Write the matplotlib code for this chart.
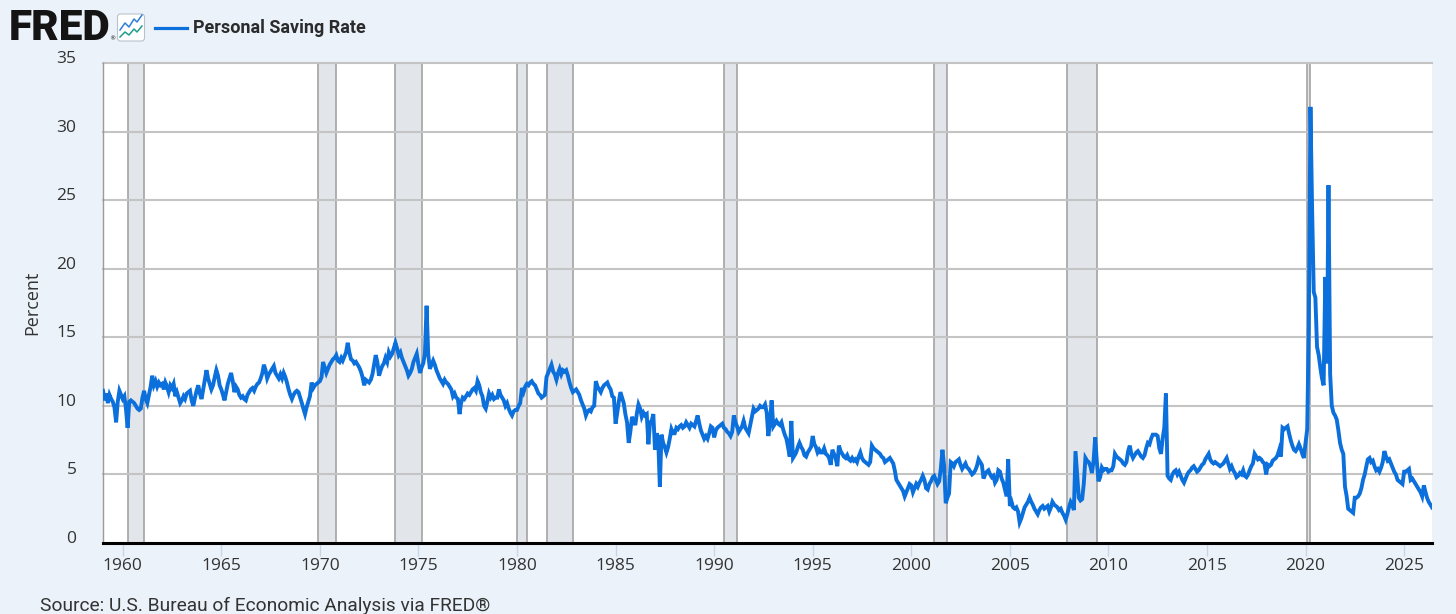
import numpy as np
import pandas as pd
import matplotlib
matplotlib.use("Agg")
import matplotlib.pyplot as plt
from matplotlib.patches import FancyBboxPatch
from matplotlib.lines import Line2D
from matplotlib.transforms import IdentityTransform

# ---------------- data (Personal Saving Rate, percent, monthly from 1959-01) ----------------
series_start = "1959-01-01"

rate_1959_1969 = [
    11.1, 10.4, 10.9, 10.2, 10.8, 10.5, 10.3, 9.9, 8.8, 10.3, 11.1, 10.8,
    10.5, 10.7, 9.8, 8.4, 10.3, 10.4, 10.3, 10.2, 10.0, 9.8, 9.7, 9.8,
    10.6, 11.1, 10.5, 10.2, 10.8, 11.4, 12.2, 11.5, 11.8, 11.4, 11.7, 11.5,
    11.6, 11.2, 11.7, 11.4, 11.0, 11.5, 11.3, 11.6, 10.7, 11.0, 10.6, 10.2,
    10.4, 10.7, 10.5, 10.9, 11.0, 11.1, 10.4, 10.0, 10.6, 11.1, 11.5, 10.9,
    10.5, 11.2, 11.9, 12.6, 12.0, 11.6, 11.2, 11.5, 12.1, 12.6, 12.2, 11.5,
    11.2, 10.8, 10.4, 11.0, 11.6, 12.0, 12.4, 11.8, 11.0, 11.4, 11.2, 10.8,
    10.6, 10.7, 10.5, 10.4, 10.8, 11.0, 11.2, 11.3, 11.1, 11.4, 11.6, 11.7,
    12.0, 12.4, 13.0, 12.6, 12.0, 12.3, 12.5, 12.7, 12.9, 12.4, 12.2, 12.0,
    12.3, 12.0, 12.4, 12.1, 11.7, 11.2, 10.8, 10.5, 10.8, 11.0, 11.1, 11.0,
    10.6, 10.2, 9.8, 9.4, 9.9, 10.3, 10.7, 11.7, 11.3, 11.5, 11.6, 11.7,
]
rate_1970s = [
    11.8, 12.1, 13.2, 12.8, 12.4, 12.7, 13.0, 13.2, 13.4, 13.5, 13.7, 13.3,
    13.2, 13.5, 13.3, 13.6, 13.9, 14.6, 13.9, 13.4, 13.3, 13.1, 13.2, 13.0,
    12.8, 12.5, 12.1, 11.5, 11.9, 11.8, 11.7, 11.9, 12.3, 13.0, 13.7, 13.2,
    12.2, 12.6, 12.9, 13.1, 13.5, 13.2, 13.9, 13.6, 13.8, 14.2, 14.6, 14.2,
    13.7, 13.9, 13.5, 13.2, 12.9, 12.6, 12.2, 12.4, 12.7, 13.2, 13.5, 13.8,
    13.0, 12.4, 12.8, 13.1, 13.8, 17.3, 13.8, 12.7, 13.0, 13.3, 13.0, 12.6,
    12.3, 12.0, 11.8, 11.6, 11.9, 11.7, 11.6, 11.4, 11.2, 10.7, 10.9, 10.6,
    10.5, 9.4, 10.2, 10.6, 10.5, 10.7, 10.9, 10.8, 11.0, 11.2, 11.3, 11.1,
    11.8, 11.5, 11.0, 10.7, 10.0, 9.8, 10.3, 10.9, 10.6, 10.8, 10.5, 10.6,
    10.6, 11.2, 10.8, 10.6, 10.4, 10.0, 10.2, 9.8, 9.5, 9.3, 9.6, 9.7,
]
rate_1980s = [
    9.7, 10.0, 10.2, 11.3, 11.0, 11.4, 11.6, 11.5, 11.7, 11.8, 11.6, 11.5,
    11.2, 10.9, 10.8, 10.6, 10.7, 10.8, 12.1, 12.4, 12.7, 13.0, 12.5, 12.3,
    11.9, 12.4, 12.7, 12.3, 12.6, 12.5, 12.6, 12.2, 11.7, 11.3, 11.0, 11.1,
    11.2, 11.0, 10.8, 10.4, 10.1, 9.8, 9.3, 9.6, 9.7, 9.6, 9.9, 10.0,
    11.8, 11.4, 11.2, 11.0, 11.3, 11.5, 11.6, 11.7, 11.4, 11.2, 10.7, 10.6,
    8.7, 9.5, 10.3, 11.0, 10.6, 10.2, 9.4, 8.8, 7.3, 8.1, 9.2, 8.9,
    8.6, 9.5, 10.1, 9.8, 9.2, 9.5, 9.3, 9.4, 7.2, 8.8, 8.9, 9.4,
    6.8, 8.0, 7.6, 4.1, 7.9, 7.3, 7.0, 6.6, 7.0, 7.6, 8.3, 8.0,
    8.0, 8.4, 8.3, 8.5, 8.6, 8.4, 8.5, 8.8, 8.6, 8.4, 8.7, 8.6,
    8.5, 8.9, 9.3, 8.7, 8.2, 7.9, 7.6, 7.8, 7.6, 8.0, 8.5, 8.4,
]
rate_1990s = [
    7.7, 8.2, 8.4, 8.5, 8.6, 8.7, 8.4, 8.3, 8.1, 8.0, 7.8, 8.1,
    9.3, 8.8, 8.5, 8.1, 8.3, 8.5, 8.9, 8.4, 8.2, 8.0, 8.6, 9.2,
    9.8, 9.6, 9.7, 9.8, 10.0, 9.9, 9.9, 10.1, 9.5, 7.8, 8.8, 10.4,
    8.5, 8.7, 8.9, 8.7, 8.6, 8.8, 8.3, 7.9, 7.6, 7.0, 6.3, 8.9,
    6.2, 6.4, 6.6, 7.0, 7.3, 7.0, 6.8, 6.4, 6.3, 6.6, 6.8, 7.0,
    7.8, 7.2, 7.0, 6.6, 6.8, 6.6, 6.6, 6.9, 6.5, 6.4, 6.2, 5.7,
    6.8, 6.5, 6.2, 5.6, 7.1, 6.7, 6.5, 6.3, 6.2, 6.4, 6.1, 6.0,
    6.2, 6.0, 6.1, 5.9, 6.3, 6.6, 6.2, 6.0, 5.9, 5.8, 5.7, 5.9,
    7.1, 6.9, 6.8, 6.7, 6.6, 6.5, 6.3, 6.2, 5.9, 6.0, 6.1, 6.2,
    6.0, 5.8, 5.3, 4.6, 4.4, 4.2, 4.0, 3.8, 3.4, 3.7, 4.0, 4.3,
]
rate_2000s = [
    4.2, 3.7, 4.0, 4.3, 4.1, 4.4, 4.6, 4.9, 4.6, 4.0, 3.9, 4.3,
    4.5, 4.8, 4.9, 4.6, 4.3, 4.5, 5.4, 6.8, 5.6, 2.9, 3.3, 3.6,
    5.9, 5.8, 5.6, 5.9, 6.0, 6.1, 5.7, 5.4, 5.6, 5.8, 5.5, 5.4,
    5.2, 5.0, 5.1, 5.3, 5.6, 6.1, 5.9, 5.7, 4.7, 5.0, 5.2, 5.3,
    5.0, 4.8, 4.9, 4.4, 4.6, 5.3, 5.2, 4.7, 4.4, 3.9, 3.4, 6.1,
    2.7, 3.0, 2.6, 2.5, 2.6, 2.3, 1.5, 1.8, 2.2, 2.6, 2.8, 3.0,
    3.3, 3.0, 2.8, 2.5, 2.3, 2.1, 2.4, 2.6, 2.7, 2.5, 2.6, 2.7,
    2.3, 2.6, 3.0, 2.8, 2.7, 2.6, 2.4, 2.5, 2.2, 2.0, 1.7, 2.1,
    2.6, 3.0, 2.8, 2.4, 6.7, 5.0, 3.3, 3.1, 3.2, 4.3, 6.2, 6.0,
    5.9, 5.6, 5.1, 6.0, 7.7, 5.9, 4.5, 4.8, 5.5, 5.3, 5.4, 5.4,
]
rate_2010s = [
    5.2, 5.3, 5.3, 5.6, 6.5, 6.3, 6.2, 6.1, 6.0, 5.8, 5.7, 5.9,
    6.7, 7.1, 6.5, 6.2, 6.4, 6.6, 6.7, 6.5, 6.3, 6.2, 6.4, 6.9,
    7.3, 7.2, 7.6, 7.9, 7.9, 7.9, 7.8, 6.9, 6.5, 7.6, 8.4, 10.9,
    4.9, 4.7, 4.6, 5.0, 5.2, 5.3, 5.0, 5.2, 4.9, 4.6, 4.4, 4.7,
    5.0, 5.2, 5.3, 5.5, 5.6, 5.4, 5.2, 5.3, 5.5, 5.7, 5.8, 6.1,
    6.3, 6.5, 6.1, 5.9, 5.8, 5.9, 5.8, 5.7, 5.6, 5.7, 5.8, 6.0,
    6.2, 5.8, 5.4, 5.6, 5.3, 5.1, 4.8, 4.9, 5.1, 5.0, 5.3, 4.9,
    4.8, 5.0, 5.3, 5.6, 5.8, 6.5, 6.3, 6.1, 6.2, 6.1, 5.9, 5.8,
    5.0, 5.7, 5.6, 5.7, 6.0, 6.1, 6.2, 6.4, 6.8, 6.3, 8.4, 8.3,
    8.4, 8.5, 8.0, 7.5, 7.1, 6.8, 6.7, 6.9, 7.2, 6.9, 6.5, 6.2,
]
rate_2020s = [
    7.3, 8.3, 15.8, 31.8, 24.5, 18.3, 17.9, 14.3, 13.7, 12.8, 12.0, 11.5,
    19.4, 13.1, 26.1, 12.3, 10.0, 9.5, 9.3, 9.0, 8.2, 7.3, 6.8, 6.5,
    4.1, 3.4, 2.5, 2.4, 2.3, 2.2, 3.3, 3.3, 3.4, 3.6, 4.0, 4.6,
    5.0, 5.6, 6.1, 6.2, 5.9, 6.0, 5.6, 5.3, 5.4, 5.2, 5.5, 5.9,
    6.7, 6.3, 6.0, 6.1, 5.8, 5.5, 5.2, 5.0, 4.6, 4.5, 4.4, 4.3,
    5.2, 5.2, 5.3, 5.4, 4.6, 4.7, 4.5, 4.3, 4.1, 3.9, 3.7, 3.4,
    4.2, 3.7, 3.3, 3.0, 2.8, 2.6,
]

recession_starts = ["1960-04-01", "1969-12-01", "1973-11-01", "1980-01-01", "1981-07-01",
                    "1990-07-01", "2001-03-01", "2007-12-01", "2020-02-01"]
recession_ends = ["1961-02-01", "1970-11-01", "1975-03-01", "1980-07-01", "1982-11-01",
                  "1991-03-01", "2001-11-01", "2009-06-01", "2020-04-01"]

y_ticks = [0, 5, 10, 15, 20, 25, 30, 35]
x_tick_years = [1960, 1965, 1970, 1975, 1980, 1985, 1990, 1995, 2000, 2005, 2010, 2015, 2020, 2025]

series_name = "Personal Saving Rate"
y_label = "Percent"
source_text = "Source: U.S. Bureau of Economic Analysis via FRED\u00ae"

# ---------------- build ----------------
rates = np.array(rate_1959_1969 + rate_1970s + rate_1980s + rate_1990s +
                 rate_2000s + rate_2010s + rate_2020s)
dates = pd.date_range(series_start, periods=len(rates), freq="MS")

W, H = 1456, 614
BG = "#ebf2fa"
LINE = "#0b6fdc"
TXT = "#333333"

fig = plt.figure(figsize=(W / 100, H / 100), dpi=100, facecolor=BG)
L, R, T, B = 103, 1432, 63, 543
ax = fig.add_axes([L / W, 1 - B / H, (R - L) / W, (B - T) / H])
ax.set_facecolor("white")

for s, e in zip(recession_starts, recession_ends):
    ax.axvspan(pd.Timestamp(s), pd.Timestamp(e), facecolor="#e2e6ea",
               edgecolor="#a3a3a3", linewidth=1.2, zorder=0.3)

for v in y_ticks[1:]:
    ax.axhline(v, color="#c4c4c4", linewidth=1.5, zorder=1, clip_on=False)

ax.plot(dates, rates, color=LINE, linewidth=2.8, zorder=3, solid_joinstyle="miter")

ax.set_xlim(dates[0], dates[-1])
ax.set_ylim(0, 35)

for side in ("top", "right"):
    ax.spines[side].set_visible(False)
ax.spines["left"].set_color("#9a9a9a")
ax.spines["left"].set_linewidth(1.0)
ax.spines["bottom"].set_color("#000000")
ax.spines["bottom"].set_linewidth(2.2)
ax.spines["bottom"].set_zorder(4)

ax.set_yticks(y_ticks)
ax.set_yticklabels([str(v) for v in y_ticks])
ax.tick_params(axis="y", length=0, pad=19, labelsize=12.5, labelcolor=TXT)
for lbl in ax.get_yticklabels():
    lbl.set_fontfamily("Open Sans")
    lbl.set_verticalalignment("baseline")

ax.set_xticks([pd.Timestamp(f"{y}-01-01") for y in x_tick_years])
ax.set_xticklabels([str(y) for y in x_tick_years])
ax.tick_params(axis="x", length=9, width=1.0, color="#c9d6e5", pad=2,
               labelsize=12.5, labelcolor=TXT)
for lbl in ax.get_xticklabels():
    lbl.set_fontfamily("Open Sans")

# y label
fig.text(32 / W, 1 - 303 / H, y_label, rotation=90, ha="center", va="center",
         fontsize=13, color=TXT, family="Open Sans")

# header: FRED logo
fig.text(8.5 / W, 1 - 40.5 / H, "FRED", fontsize=30.5, fontweight="black",
         family="Roboto", color="#141414", va="baseline", ha="left")
fig.text(109.5 / W, 1 - 40.5 / H, "\u00ae", fontsize=4.5, color="#141414",
         va="baseline", ha="left", family="DejaVu Sans")

# small chart icon (decoration)
ident = IdentityTransform()
icon = FancyBboxPatch((117.5, H - 41), 27, 27, boxstyle="round,pad=0,rounding_size=3",
                      transform=ident, facecolor="white", edgecolor="#b9c2cc",
                      linewidth=0.8, figure=fig)
fig.patches.append(icon)
bx = [120, 125, 129, 134, 137, 142]
fig.lines.append(Line2D(bx, [H - 30, H - 23, H - 27, H - 19, H - 22, H - 15],
                        transform=ident, color="#2f7fd6", linewidth=1.1, figure=fig))
fig.lines.append(Line2D(bx, [H - 37, H - 32, H - 35, H - 29, H - 32, H - 26],
                        transform=ident, color="#1f9e8a", linewidth=1.1, figure=fig))

# legend
fig.lines.append(Line2D([155, 187], [H - 28, H - 28], transform=ident,
                        color=LINE, linewidth=2.3, figure=fig))
fig.text(193 / W, 1 - 33 / H, series_name, fontsize=13, fontweight="bold",
         family="Roboto", color="#2b2b2b", va="baseline", ha="left")

# source (sits at the very bottom edge, as in the reference)
fig.text(40 / W, 1 - 611 / H, source_text, fontsize=13.8, family="Roboto",
         color=TXT, va="baseline", ha="left")

fig.savefig("out.png", dpi=100, facecolor=BG)
